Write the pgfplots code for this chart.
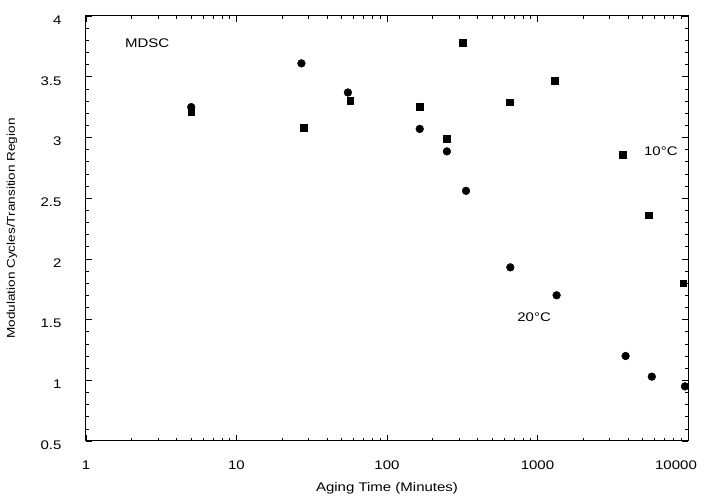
\documentclass[border=0pt]{standalone}
\usepackage{pgfplots}
\pgfplotsset{compat=1.18}
\usepackage{fontspec}
\setmainfont[FakeStretch=1.2]{Liberation Sans}
\begin{document}
\begin{tikzpicture}
\useasboundingbox (-86pt,-59pt) rectangle (618pt,441pt);
\begin{axis}[
    at={(0pt,0pt)}, anchor=south west,
    scale only axis,
    width=602pt, height=425pt,
    xmode=log,
    xmin=1, xmax=10000,
    ymin=0.5, ymax=4,
    xtick={1,10,100,1000,10000},
    xticklabels={1,10,100,1000,\hspace*{-24pt}10000},
    ytick={0.5,1,1.5,2,2.5,3,3.5,4},
    yticklabels={0.5,1,1.5,2,2.5,3,3.5,4},
    minor y tick num=4,
    tick align=inside,
    major tick length=6pt,
    minor tick length=3pt,
    axis line style={line width=1pt},
    every tick/.style={line width=0.6pt},
    tick label style={font=\fontsize{12.5}{14}\selectfont},
    xticklabel style={yshift=-16pt},
    yticklabel style={xshift=-21pt, yshift=-4pt},
    xlabel style={font=\fontsize{12.5}{14}\selectfont},
    ylabel style={font=\fontsize{11.3}{13}\selectfont},
    xlabel={Aging Time (Minutes)},
    ylabel={Modulation Cycles/Transition Region},
    xlabel style={at={([yshift=-47pt]axis description cs:0.5,0)}, anchor=center},
    ylabel style={at={([xshift=-74pt]axis description cs:0,0.5)}, anchor=center},
    /pgf/number format/assume math mode=true,
    clip=false,
]
% 10 C (squares)
\addplot[only marks, mark=square*, mark size=3.4pt, black] coordinates {
    (5,3.21) (28,3.08) (57,3.30) (165,3.25) (250,2.99) (320,3.78)
    (650,3.29) (1300,3.47) (3700,2.86) (5500,2.36) (9300,1.80)
};
% 20 C (circles)
\addplot[only marks, mark=*, mark size=3.9pt, black] coordinates {
    (5,3.25) (27,3.61) (55,3.37) (165,3.07) (250,2.885) (335,2.56)
    (660,1.93) (1340,1.70) (3850,1.20) (5750,1.03) (9550,0.95)
};
\node[font=\fontsize{12.5}{14}\selectfont] at (axis cs:2.55,3.78) {MDSC};
\node[font=\fontsize{12.5}{14}\selectfont] at (axis cs:6600,2.89) {10°C};
\node[font=\fontsize{12.5}{14}\selectfont] at (axis cs:950,1.52) {20°C};
\end{axis}
\end{tikzpicture}
\end{document}
